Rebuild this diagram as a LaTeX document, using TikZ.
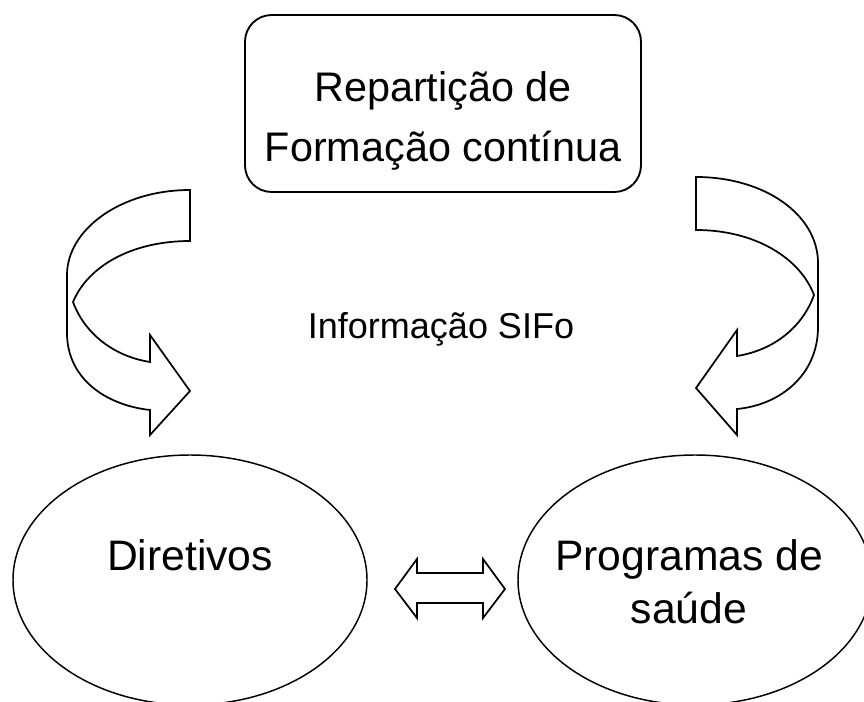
\documentclass[tikz,border=0pt]{standalone}
\usepackage{fontspec}
\setmainfont{Liberation Sans}
\usepackage{tikz}
\usetikzlibrary{shapes.geometric}

\tikzset{
  panel/.style={draw, line width=1.4pt, rounded corners=20pt, minimum width=297pt, minimum height=132.75pt, inner sep=0pt},
  bubble/.style={draw, ellipse, line width=1.1pt, minimum width=265.5pt, minimum height=187.5pt, inner sep=0pt},
  blockarrow/.style={draw, line width=1.3pt, fill=white, line join=miter},
  caption/.style={inner sep=0pt, align=center}
}

\begin{document}
\begin{tikzpicture}[x=0.75pt,y=0.75pt,yscale=-1,xscale=1]
\useasboundingbox (0,0) rectangle (864,702);

% Rounded Rect
\node [panel] (rep) at (443,103.5) {};
% Text Node
\node [caption, anchor=base, font=\fontsize{31}{45}\selectfont] (reptext) at (443,162) {Repartição de\\Formação contínua};

% Curved Arrow left
\draw [blockarrow] (190,190) .. controls (120,190) and (67,230) .. (67,275) -- (67,333)
  .. controls (67,378) and (105,405) .. (150,410) -- (150,435) -- (190,391) -- (150,335) -- (150,362)
  .. controls (112,356) and (84,332) .. (73,302) .. controls (88,266) and (132,241) .. (190,241) -- cycle ;
% Curved Arrow right
\draw [blockarrow] (696,177) .. controls (765,177) and (818,215) .. (818,263) -- (818,327)
  .. controls (818,375) and (780,405) .. (737,409) -- (737,435) -- (696,388) -- (737,330) -- (737,356)
  .. controls (775,350) and (803,326) .. (814,295) .. controls (800,258) and (755,230) .. (696,230) -- cycle ;

% Text Node
\node [caption, anchor=base, font=\fontsize{27}{32}\selectfont] (info) at (441,339) {Informação SIFo};

% Ellipse
\node [bubble] (dir) at (190,580) {};
% Ellipse
\node [bubble] (prog) at (695,580) {};
% Text Node
\node [caption, anchor=base, font=\fontsize{32}{39.75}\selectfont] (dirtext) at (190,570) {Diretivos};
% Text Node
\node [caption, anchor=base, font=\fontsize{32}{39.75}\selectfont] (progtext) at (689,623) {Programas de\\saúde};

% Left Right Arrow
\draw [blockarrow] (395,589) -- (417,559) -- (417,573) -- (483,573) -- (483,559) -- (505,589)
  -- (483,618) -- (483,603) -- (417,603) -- (417,618) -- cycle ;

\end{tikzpicture}
\end{document}
